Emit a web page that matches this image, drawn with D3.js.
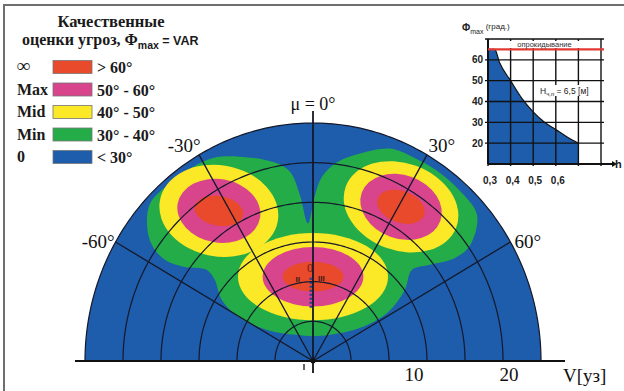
<!DOCTYPE html>
<html>
<head>
<meta charset="utf-8">
<script src="https://cdn.jsdelivr.net/npm/d3@7"></script>
<style>
  body { margin: 0; background: #fff; }
  svg { display: block; }
  .serif { font-family: "Liberation Serif", "Times New Roman", serif; }
  .sans { font-family: "Liberation Sans", Arial, sans-serif; }
</style>
</head>
<body>
<svg id="chart" width="624" height="391"></svg>
<script>
// legend zones
const zoneNames = [`∞`, `Max`, `Mid`, `Min`, `0`];
const zoneRanges = [`> 60°`, `50° - 60°`, `40° - 50°`, `30° - 40°`, `< 30°`];
const zoneColors = [`#e84a2b`, `#d8458c`, `#fbe826`, `#23ac48`, `#1d5dab`];

// polar diagram: course angle mu (deg), speed V (knots)
const maxSpeed = 24;
const gridSpeeds = [4, 8, 12, 16, 20];
const speedTicks = [10, 20];
const courseAngles = [-60, -30, 0, 30, 60];
const courseLabels = [`-60°`, `-30°`, `μ = 0°`, `30°`, `60°`];

// outline of the "Min" (30-40 deg) zone, [mu, V]
const minZoneOutline = [
  [-51.9, 22.2], [-47, 23.4], [-40, 23.4], [-33, 23.3], [-27, 23.0], [-20.5, 22.0],
  [-11.3, 20.4], [-7.2, 19.2], [-4.7, 16.8], [-2.2, 13.9], [0.7, 16.7], [2.9, 18.6],
  [7.2, 20.2], [13.3, 21.5], [20.7, 22.9], [27, 23.1], [34, 23.2], [42, 23.1],
  [49.5, 22.7], [54.7, 20.3], [55.2, 18.2], [51.8, 15.7], [48.6, 13.9], [53.5, 12.0],
  [58.0, 9.3], [56.1, 6.0], [34.3, 3.2], [0, 2.5], [-34.3, 3.2], [-56.2, 5.5],
  [-60.5, 8.8], [-57.3, 11.4], [-51.6, 13.2], [-50.6, 14.5], [-54.9, 16.5],
  [-56.8, 18.6], [-55.4, 20.6]
];

// three threat centres [mu, V] and their zone ellipses (semi-axes in knots)
const threatCentres = [[-33.2, 18.1], [0, 8.5], [30.8, 18.1]];
const threatTilt = [10, 0, 20];
const midAxes = [[6.3, 4.6], [7.9, 4.4], [6.2, 4.4]];
const maxAxes = [[4.4, 3.2], [5.3, 3.0], [4.4, 3.2]];
const infAxes = [[2.6, 1.5], [3.2, 1.5], [2.6, 1.6]];

// inset: Phi max vs h
const insetH = [0.3, 0.33, 0.35, 0.4, 0.45, 0.5, 0.55, 0.6, 0.65, 0.7];
const insetPhi = [65, 65, 59, 50, 41.5, 35, 30, 26.5, 23, 20];
const insetHGrid = [0.3, 0.4, 0.5, 0.6, 0.7, 0.8];
const insetHTicks = [0.3, 0.4, 0.5, 0.6];
const insetPhiGrid = [20, 30, 40, 50, 60, 70];
const insetPhiTicks = [20, 30, 40, 50, 60];
const capsizePhi = 65;

const svg = d3.select(`#chart`);

// frame
svg.append(`path`).attr(`d`, `M4,391V5H624`).attr(`fill`, `none`)
  .attr(`stroke`, `#6e6e6e`).attr(`stroke-width`, 2);

// ---------- polar diagram ----------
const ox = 313, oy = 361;
const sx = d3.scaleLinear().domain([0, maxSpeed]).range([0, 228]);
const sy = d3.scaleLinear().domain([0, maxSpeed]).range([0, 238]);
const rad = d => d * Math.PI / 180;
const project = (mu, v) => [ox + sx(v * Math.sin(rad(mu))), oy - sy(v * Math.cos(rad(mu)))];
const arcPoints = v => d3.range(-90, 90.5, 1).map(m => project(m, v));

const polar = svg.append(`g`);
const line = d3.line();
const outline = line(arcPoints(maxSpeed)) + `Z`;

polar.append(`clipPath`).attr(`id`, `half`).append(`path`).attr(`d`, outline);
polar.append(`path`).attr(`d`, outline).attr(`fill`, zoneColors[4]);

const zones = polar.append(`g`).attr(`clip-path`, `url(#half)`);
zones.append(`path`)
  .attr(`d`, d3.line().curve(d3.curveCatmullRomClosed.alpha(0.5))(minZoneOutline.map(d => project(d[0], d[1]))))
  .attr(`fill`, zoneColors[3]);

const drawEllipses = (axes, color) => {
  zones.selectAll(null).data(threatCentres).enter().append(`ellipse`)
    .attr(`cx`, d => project(d[0], d[1])[0])
    .attr(`cy`, d => project(d[0], d[1])[1])
    .attr(`rx`, (d, i) => sx(axes[i][0]))
    .attr(`ry`, (d, i) => sy(axes[i][1]))
    .attr(`transform`, (d, i) => {
      const p = project(d[0], d[1]);
      return `rotate(${threatTilt[i]},${p[0]},${p[1]})`;
    })
    .attr(`fill`, color);
};
drawEllipses(midAxes, zoneColors[2]);
drawEllipses(maxAxes, zoneColors[1]);
drawEllipses(infAxes, zoneColors[0]);

// small marks in the central zone
zones.append(`line`)
  .attr(`x1`, project(0, 8.4)[0] - 2).attr(`y1`, project(0, 8.4)[1])
  .attr(`x2`, project(0, 5.2)[0] - 2).attr(`y2`, project(0, 5.2)[1])
  .attr(`stroke`, `#2b3f8c`).attr(`stroke-width`, 3).attr(`stroke-dasharray`, `2,2`);
zones.append(`text`).attr(`class`, `serif`)
  .attr(`x`, project(0, 9.4)[0] - 3).attr(`y`, project(0, 9.4)[1] + 4)
  .attr(`text-anchor`, `middle`).attr(`font-size`, 12).attr(`fill`, `#6a1c1c`).text(`0`);
zones.append(`text`).attr(`class`, `sans`)
  .attr(`x`, project(-11, 8.4)[0]).attr(`y`, project(-11, 8.4)[1] + 3)
  .attr(`text-anchor`, `middle`).attr(`font-size`, 8).attr(`font-weight`, `bold`).attr(`fill`, `#3a1a1a`).text(`II`);
zones.append(`text`).attr(`class`, `sans`)
  .attr(`x`, project(6, 8.4)[0]).attr(`y`, project(6, 8.4)[1] + 3)
  .attr(`text-anchor`, `middle`).attr(`font-size`, 8).attr(`font-weight`, `bold`).attr(`fill`, `#3a1a1a`).text(`III`);

// grid arcs and radial lines
const gridColor = `#15182a`;
polar.selectAll(`.arc`).data(gridSpeeds).enter().append(`path`)
  .attr(`class`, `arc`)
  .attr(`d`, d => line(arcPoints(d)))
  .attr(`fill`, `none`).attr(`stroke`, gridColor).attr(`stroke-width`, 1.2);

polar.selectAll(`.ray`).data(courseAngles).enter().append(`line`)
  .attr(`class`, `ray`)
  .attr(`x1`, ox).attr(`y1`, oy)
  .attr(`x2`, d => project(d, d === 0 ? maxSpeed + 1.2 : maxSpeed)[0])
  .attr(`y2`, d => project(d, d === 0 ? maxSpeed + 1.2 : maxSpeed)[1])
  .attr(`stroke`, gridColor).attr(`stroke-width`, d => d === 0 ? 1.8 : 1.3);

polar.append(`path`).attr(`d`, line(arcPoints(maxSpeed)))
  .attr(`fill`, `none`).attr(`stroke`, gridColor).attr(`stroke-width`, 1.2);

// speed axis
polar.append(`line`).attr(`x1`, 75).attr(`x2`, 565).attr(`y1`, oy).attr(`y2`, oy)
  .attr(`stroke`, `#111`).attr(`stroke-width`, 2);
polar.append(`line`).attr(`x1`, ox).attr(`x2`, ox).attr(`y1`, oy).attr(`y2`, oy + 12)
  .attr(`stroke`, `#111`).attr(`stroke-width`, 1.8);
polar.append(`line`).attr(`x1`, ox - 9).attr(`x2`, ox - 9).attr(`y1`, oy + 3).attr(`y2`, oy + 9)
  .attr(`stroke`, `#333`).attr(`stroke-width`, 1.5);
polar.append(`circle`).attr(`cx`, ox).attr(`cy`, oy).attr(`r`, 2.5).attr(`fill`, `#111`);

const xAxisScale = d3.scaleLinear().domain([0, maxSpeed]).range([ox, ox + sx(maxSpeed)]);
const xAxis = polar.append(`g`).attr(`transform`, `translate(0,${oy})`)
  .call(d3.axisBottom(xAxisScale).tickValues(speedTicks).tickSize(0).tickPadding(0));
xAxis.select(`.domain`).remove();
xAxis.selectAll(`text`).attr(`class`, `serif`).attr(`font-size`, 19)
  .attr(`fill`, `#111`).attr(`text-anchor`, `start`).attr(`dx`, -4).attr(`dy`, 20);
polar.append(`text`).attr(`class`, `serif`).attr(`x`, 563).attr(`y`, 382)
  .attr(`font-size`, 19).attr(`fill`, `#111`).text(`V[уз]`);

// course labels
polar.selectAll(`.clabel`).data(courseAngles).enter().append(`text`)
  .attr(`class`, `serif clabel`)
  .attr(`x`, d => d === 0 ? ox : project(d + Math.sign(d) * 2, 25.6)[0])
  .attr(`y`, d => d === 0 ? 104 : project(d + Math.sign(d) * 2, 25.6)[1])
  .attr(`text-anchor`, `middle`).attr(`dominant-baseline`, `central`)
  .attr(`font-size`, d => d === 0 ? 18 : 19).attr(`fill`, `#111`)
  .text((d, i) => courseLabels[i]);

// ---------- legend ----------
const legend = svg.append(`g`);
legend.append(`text`).attr(`class`, `serif`).attr(`x`, 111).attr(`y`, 27)
  .attr(`text-anchor`, `middle`).attr(`font-size`, 16.5).attr(`font-weight`, `bold`).attr(`fill`, `#1a1a1a`)
  .text(`Качественные`);
const t2 = legend.append(`text`).attr(`x`, 22).attr(`y`, 45).attr(`font-weight`, `bold`).attr(`fill`, `#1a1a1a`);
t2.append(`tspan`).attr(`class`, `serif`).attr(`font-size`, 16).text(`оценки угроз, Φ`);
t2.append(`tspan`).attr(`class`, `sans`).attr(`font-size`, 10.5).attr(`dy`, 4).text(`max`);
t2.append(`tspan`).attr(`class`, `sans`).attr(`font-size`, 12.5).attr(`dy`, -4).text(` = VAR`);

const rows = legend.selectAll(`.row`).data(zoneNames).enter().append(`g`)
  .attr(`transform`, (d, i) => `translate(0,${67 + i * 22.5})`);
rows.append(`text`).attr(`class`, `serif`).attr(`x`, 17).attr(`dy`, 5)
  .attr(`font-size`, (d, i) => i === 0 ? 19 : 16).attr(`font-weight`, `bold`).attr(`fill`, `#1a1a1a`).text(d => d);
rows.append(`rect`).attr(`x`, 53).attr(`y`, -6.5).attr(`width`, 39).attr(`height`, 13)
  .attr(`fill`, (d, i) => zoneColors[i]).attr(`stroke`, `#777`).attr(`stroke-width`, 0.8);
rows.append(`text`).attr(`class`, `serif`).attr(`x`, 97).attr(`dy`, 6)
  .attr(`font-size`, 16).attr(`font-weight`, `bold`).attr(`fill`, `#1a1a1a`).text((d, i) => zoneRanges[i]);

// ---------- inset ----------
const inset = svg.append(`g`);
const ix = d3.scaleLinear().domain([0.3, 0.8]).range([488, 601]);
const iy = d3.scaleLinear().domain([10, 70]).range([164, 39]);

inset.append(`path`)
  .datum(insetH.map((h, i) => [h, insetPhi[i]]))
  .attr(`d`, d3.area().curve(d3.curveMonotoneX).x(d => ix(d[0])).y0(iy(10)).y1(d => iy(d[1])))
  .attr(`fill`, zoneColors[4]);
inset.append(`path`)
  .datum(insetH.map((h, i) => [h, insetPhi[i]]))
  .attr(`d`, d3.line().curve(d3.curveMonotoneX).x(d => ix(d[0])).y(d => iy(d[1])))
  .attr(`fill`, `none`).attr(`stroke`, `#111`).attr(`stroke-width`, 1.2);

inset.selectAll(`.vg`).data(insetHGrid).enter().append(`line`)
  .attr(`x1`, d => ix(d)).attr(`x2`, d => ix(d)).attr(`y1`, iy(70)).attr(`y2`, iy(10) + 2)
  .attr(`stroke`, `#111`).attr(`stroke-width`, 1.4);
inset.selectAll(`.hg`).data(insetPhiGrid).enter().append(`line`)
  .attr(`x1`, ix(0.3) - 3).attr(`x2`, ix(0.8) + 3).attr(`y1`, d => iy(d)).attr(`y2`, d => iy(d))
  .attr(`stroke`, `#111`).attr(`stroke-width`, 1.4);

inset.append(`line`).attr(`x1`, ix(0.3)).attr(`x2`, 612).attr(`y1`, iy(10)).attr(`y2`, iy(10))
  .attr(`stroke`, `#111`).attr(`stroke-width`, 2);
inset.append(`path`).attr(`d`, `M612,${iy(10) - 3}L617,${iy(10)}L612,${iy(10) + 3}Z`).attr(`fill`, `#111`);
inset.append(`line`).attr(`x1`, ix(0.3)).attr(`x2`, ix(0.3)).attr(`y1`, iy(70)).attr(`y2`, iy(10))
  .attr(`stroke`, `#111`).attr(`stroke-width`, 2);

inset.append(`line`).attr(`x1`, ix(0.3)).attr(`x2`, ix(0.8) + 3)
  .attr(`y1`, iy(capsizePhi)).attr(`y2`, iy(capsizePhi))
  .attr(`stroke`, `#e23a32`).attr(`stroke-width`, 2.2);
inset.append(`rect`).attr(`x`, ix(0.3) + 10).attr(`y`, iy(70) + 2).attr(`width`, 90).attr(`height`, 7).attr(`fill`, `#fff`);
inset.append(`text`).attr(`class`, `sans`).attr(`x`, (ix(0.3) + ix(0.8)) / 2).attr(`y`, (iy(70) + iy(capsizePhi)) / 2 + 2.5)
  .attr(`text-anchor`, `middle`).attr(`font-size`, 7.5).attr(`fill`, `#333`).text(`опрокидывание`);

inset.append(`rect`).attr(`x`, 539).attr(`y`, 85).attr(`width`, 55).attr(`height`, 11).attr(`fill`, `#fff`);
const ann = inset.append(`text`).attr(`class`, `sans`).attr(`x`, 540).attr(`y`, 93.5)
  .attr(`font-size`, 8.5).attr(`fill`, `#222`);
ann.append(`tspan`).text(`H`);
ann.append(`tspan`).attr(`font-size`, 6).attr(`dy`, 2).text(`ч,п`);
ann.append(`tspan`).attr(`dy`, -2).text(` = 6,5 [м]`);

inset.selectAll(`.yl`).data(insetPhiTicks).enter().append(`text`)
  .attr(`class`, `sans`).attr(`x`, ix(0.3) - 5).attr(`y`, d => iy(d)).attr(`dy`, 3.5)
  .attr(`text-anchor`, `end`).attr(`font-size`, 10).attr(`font-weight`, `bold`).attr(`fill`, `#222`)
  .text(d => d);
inset.selectAll(`.xl`).data(insetHTicks).enter().append(`text`)
  .attr(`class`, `sans`).attr(`x`, d => ix(d) + 2).attr(`y`, 184)
  .attr(`text-anchor`, `middle`).attr(`font-size`, 10).attr(`font-weight`, `bold`).attr(`fill`, `#222`)
  .text(d => String(d).replace(`.`, `,`));
inset.append(`text`).attr(`class`, `sans`).attr(`x`, 615).attr(`y`, 168)
  .attr(`font-size`, 11).attr(`font-weight`, `bold`).attr(`fill`, `#222`).text(`h`);

const yl = inset.append(`text`).attr(`class`, `sans`).attr(`x`, 462).attr(`y`, 31).attr(`fill`, `#222`);
yl.append(`tspan`).attr(`font-size`, 10).attr(`font-weight`, `bold`).text(`Φ`);
yl.append(`tspan`).attr(`font-size`, 7).attr(`dy`, 3).text(`max`);
yl.append(`tspan`).attr(`font-size`, 8).attr(`dy`, -5).text(` (град.)`);
</script>
</body>
</html>
